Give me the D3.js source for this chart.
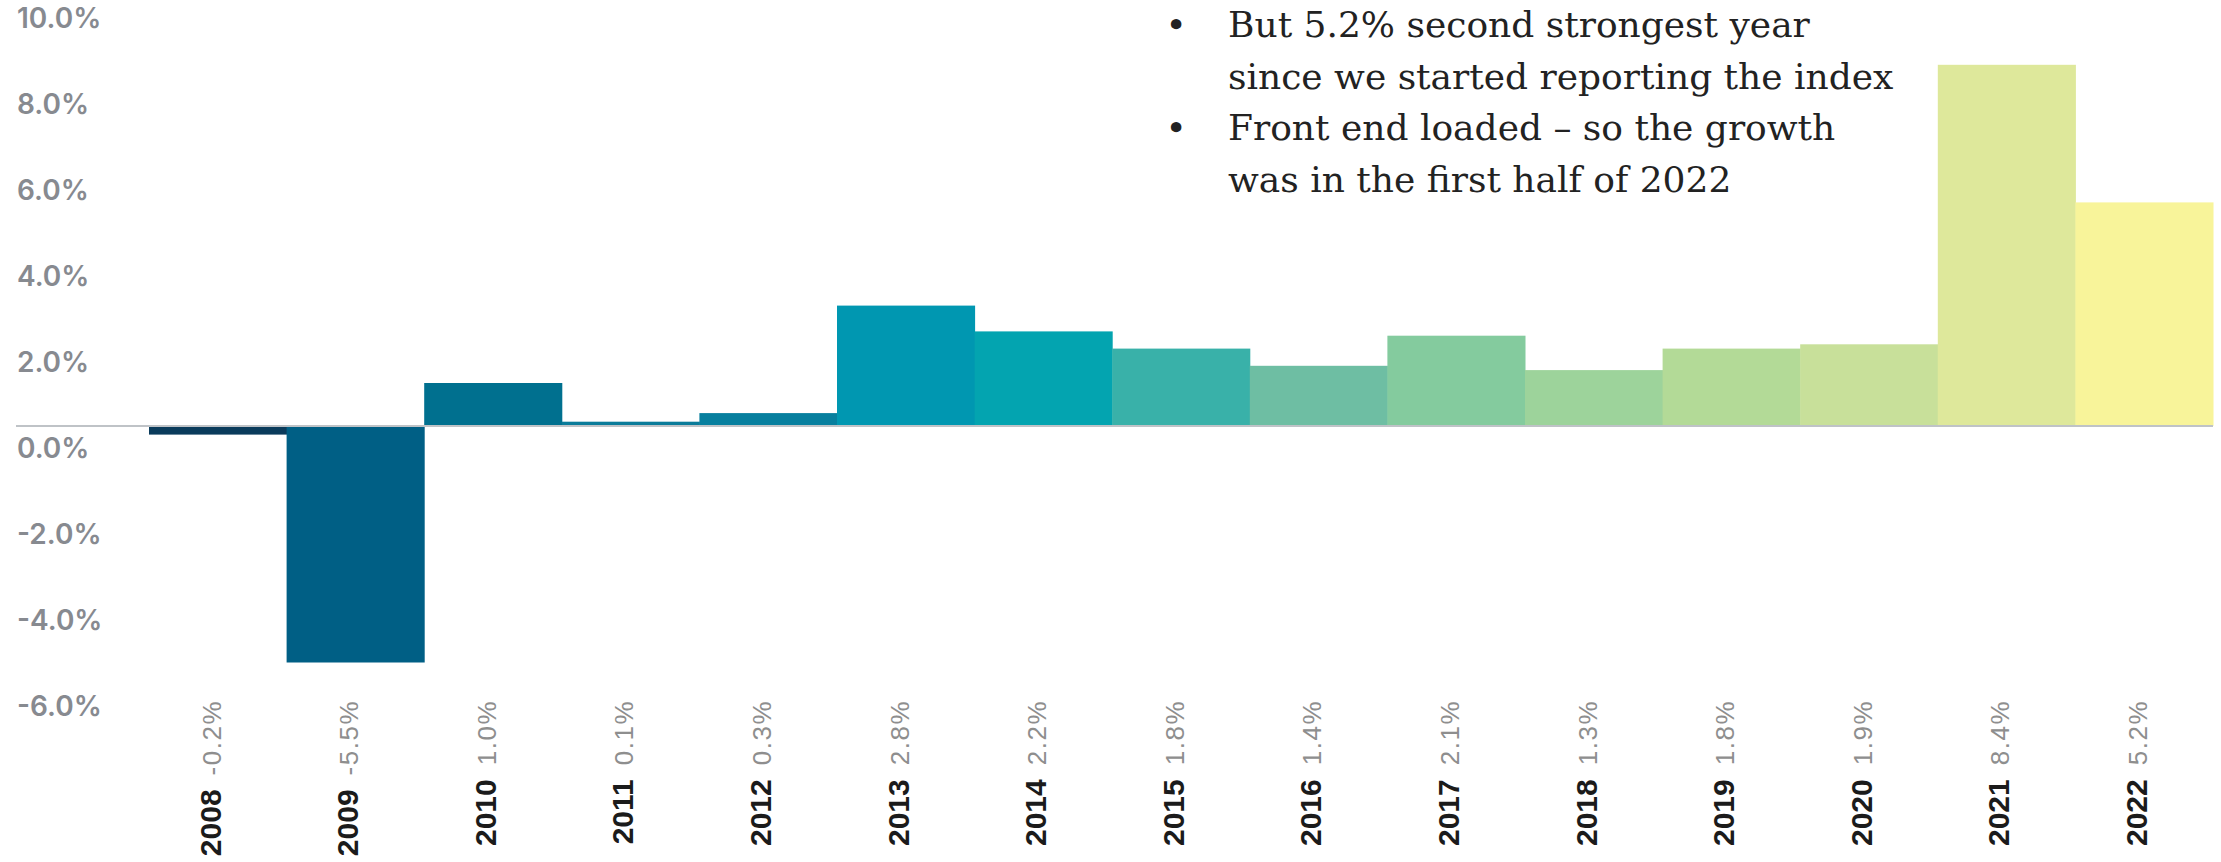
<!DOCTYPE html>
<html>
<head>
<meta charset="utf-8">
<script src="https://cdn.jsdelivr.net/npm/d3@7"></script>
<style>
  html, body { margin: 0; padding: 0; background: #ffffff; }
  svg { display: block; }
</style>
</head>
<body>
<svg id="chart" width="2221" height="862"></svg>
<script>
// Annual index growth, 2008–2022
const years = ["2008", "2009", "2010", "2011", "2012", "2013", "2014", "2015",
               "2016", "2017", "2018", "2019", "2020", "2021", "2022"];
const growth = [-0.2, -5.5, 1.0, 0.1, 0.3, 2.8, 2.2, 1.8, 1.4, 2.1, 1.3, 1.8, 1.9, 8.4, 5.2];
const barColors = ["#0a3b5b", "#005f85", "#00708f", "#0a7c9a", "#077f9e", "#0097b1",
                   "#03a4b0", "#39b1a9", "#6ebea3", "#84cb9e", "#9dd39b", "#b3da97",
                   "#c8e09a", "#dee89b", "#f8f49a"];
const yTicks = [10, 8, 6, 4, 2, 0, -2, -4, -6];

// Commentary shown at the top right
const noteLines = [
  "But 5.2% second strongest year",
  "since we started reporting the index",
  "Front end loaded \u2013 so the growth",
  "was in the first half of 2022"
];
const noteBullets = [true, false, true, false];

const svg = d3.select("#chart");

const x = d3.scaleBand().domain(years).range([149, 2213]).padding(0);
const y = d3.scaleLinear().domain([-6, 10]).range([684, -4]);

// Bars
svg.append("g")
  .selectAll("rect")
  .data(years)
  .join("rect")
  .attr("x", d => x(d))
  .attr("width", x.bandwidth() + 0.5)
  .attr("y", (d, i) => Math.min(y(0), y(growth[i])))
  .attr("height", (d, i) => Math.abs(y(growth[i]) - y(0)))
  .attr("fill", (d, i) => barColors[i]);

// Zero baseline
svg.append("line")
  .attr("x1", 16).attr("x2", 2213)
  .attr("y1", y(0)).attr("y2", y(0))
  .attr("stroke", "#bfc3c7")
  .attr("stroke-width", 2);

// Y axis labels (set slightly below their gridline positions)
const yAxis = svg.append("g")
  .attr("transform", "translate(0,23)")
  .call(d3.axisLeft(y).tickValues(yTicks).tickSize(0)
    .tickFormat(d => d.toFixed(1) + "%"));
yAxis.select(".domain").remove();
yAxis.selectAll("text")
  .attr("x", 17)
  .attr("text-anchor", "start")
  .attr("fill", "#878a90")
  .style("font-family", "Inter, 'Noto Sans', sans-serif")
  .style("font-weight", 600)
  .style("font-size", "28px");

// Rotated category labels: year and value
const xl = svg.append("g")
  .selectAll("text")
  .data(years)
  .join("text")
  .attr("transform", d => `translate(${x(d) + x.bandwidth() / 2 - 3},700) rotate(-90)`)
  .attr("text-anchor", "end")
  .attr("dy", "0.36em")
  .style("font-family", "'Liberation Sans', Arial, sans-serif");
xl.append("tspan")
  .text(d => d)
  .attr("fill", "#1b1b1b")
  .style("font-weight", 700)
  .style("font-size", "30px");
xl.append("tspan")
  .attr("dx", 14)
  .text((d, i) => growth[i].toFixed(1) + "%")
  .attr("fill", "#8e8e8e")
  .style("font-weight", 400)
  .style("font-size", "26px")
  .style("letter-spacing", "1.5px");

// Commentary block
const notes = svg.append("g")
  .style("font-family", "'DejaVu Serif', 'Liberation Serif', serif")
  .style("font-size", "36px")
  .attr("fill", "#222222");
notes.selectAll("text.line")
  .data(noteLines)
  .join("text")
  .attr("class", "line")
  .attr("x", 1228)
  .attr("y", (d, i) => 37 + i * 51.7)
  .text(d => d);
notes.selectAll("text.bullet")
  .data(noteBullets.map((b, i) => ({ b, i })).filter(d => d.b))
  .join("text")
  .attr("class", "bullet")
  .attr("x", 1176)
  .attr("y", d => 37 + d.i * 51.7)
  .attr("text-anchor", "middle")
  .text("\u2022");
</script>
</body>
</html>
